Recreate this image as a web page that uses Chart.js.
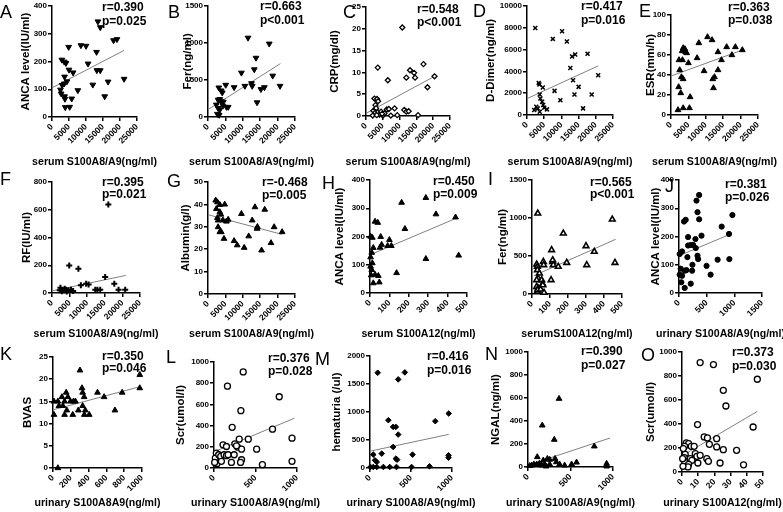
<!DOCTYPE html>
<html>
<head>
<meta charset="utf-8">
<script src="https://cdn.jsdelivr.net/npm/chart.js@4"></script>
<style>
  body { margin: 0; background: #fff; width: 783px; height: 512px; position: relative; overflow: hidden; }
  .cell { position: absolute; }
</style>
</head>
<body>
<script>
// ---- data ----
const xA = [13500,14200,19100,18100,8500,10000,4900,13100,10600,2900,3600,4100,5000,6200,13200,14200,3700,4400,3600,3000,16500,21200,12000,7600,2500,2700,3700,3800,5800,15500,3900,5200];
const yA = [344,323,280,276,258,256,252,234,192,206,199,194,170,160,168,168,145,128,120,115,127,137,116,96,98,84,74,65,66,74,35,36];
const fitAX = [0, 21200], fitAY = [105, 240];

const xB = [11500,17600,13800,13300,9600,18600,10600,12500,12700,7500,5100,20700,16200,15200,3100,3800,4100,14100,2900,3400,3800,4400,5800,5300,2900,3400,2700,3200,4300,2400];
const yB = [1068,988,797,641,596,556,418,454,418,400,432,418,400,374,396,356,329,196,231,240,209,205,134,134,120,98,40,27,151,165];
const fitBX = [0, 20800], fitBY = [100, 720];

const xC = [10800,17100,14600,13100,14300,12000,20400,18300,8500,11400,12000,12700,15500,9300,3500,6500,2500,3300,3600,2800,3000,2200,2800,3600,4500,4000,2000,3200,5000,5500,4800,6200,6800,7400];
const yC = [20.3,11.9,8.8,10.5,9.9,8.8,9.1,6.6,1.75,1.4,1.0,1.1,0.2,0.2,11.1,8.2,4.0,3.9,3.4,2.5,1.8,1.2,0.8,0.9,1.0,0.3,0.1,0.2,0.1,0.6,0.5,1.5,1.6,0.1];
const fitCX = [0, 20400], fitCY = [0.6, 9.1];

const xD = [2400,10200,7500,11600,13100,14000,17600,12600,13400,15000,13800,8000,9700,3400,3600,4600,3700,3900,4400,4700,5000,5800,2700,3100,2100,3700,16300,20700,18800];
const yD = [7970,7670,6970,6730,5360,5545,5600,4300,3180,2575,1880,2210,1360,2940,2790,2515,1880,1515,1210,910,667,515,760,606,455,303,606,3640,1880];
const fitDX = [0, 20700], fitDY = [1500, 4500];

const xE = [10500,11800,8000,16000,18500,20500,17500,13500,14500,3500,4000,3200,4200,4500,2300,3300,5000,7500,9500,13500,2500,3000,3500,12500,12000,12200,2200,2800,5500,3500,5300,2000];
const yE = [78,75,72,68,68,65,60,63,55,67,66,64,63,62,55,55,52,57,44,45,45,38,36,38,36,27,28,22,18,7,7,5];
const fitEX = [0, 20500], fitEY = [39, 65];

const xF = [16000,4900,7500,15100,8200,9700,10400,17700,2400,12300,12900,13700,18900,20800,3300,4000,4700,5400,6000,2800,4200,3600,2200];
const yF = [638,199,175,115,55,67,62,67,38,24,24,24,24,24,19,24,19,24,14,12,10,31,19];
const fitFX = [0, 21000], fitFY = [15, 127];

const xG = [2200,2700,2400,4800,3400,3400,3700,2900,4300,5300,5800,9600,13500,16300,12700,14100,14200,2900,3400,3800,4600,7500,8400,10400,11700,15400,18100,19000,21300,2700];
const yG = [41.8,41,38,40,39.8,36.6,35.5,32.9,32.9,32.4,33.2,35.8,38.8,37.7,32.9,29.2,30,29.9,27.7,27.7,24.7,23.7,21.8,20.7,25.8,19.5,22.8,29.9,27.7,34];
const fitGX = [0, 21300], fitGY = [35.4, 26.6];

const xH = [26,40,3,12,55,60,52,9,3,17,12,3,9,26,43,48,17,6,100,91,110,163,288,340,441,180,288,457,137];
const yH = [253,249,200,196,199,171,161,143,127,160,106,94,82,65,61,38,35,63,188,167,167,320,337,279,268,227,121,133,71];
const fitHX = [0, 446], fitHY = [135, 265];

const xI = [32,26,30,30,41,34,26,63,65,115,115,118,109,174,146,193,106,54,59,60,26,34,30,32,48,67,300,304,446,346,461];
const yI = [1061,390,360,316,272,206,184,425,382,425,447,382,579,798,360,412,184,184,132,118,96,75,31,53,61,18,632,382,982,557,412];
const fitIX = [10, 465], fitIY = [240, 720];

const xJ = [364,316,334,364,121,91,965,771,904,407,164,212,255,297,303,164,55,12,334,346,152,910,698,243,498,571,30,55,12,103,134,237,42,212,103];
const yJ = [347,327,286,261,259,253,276,235,209,203,198,170,170,191,159,168,147,138,132,120,127,120,118,100,96,65,86,61,65,79,81,79,38,33,18];
const fitJX = [0, 950], fitJY = [132, 210];

const xK = [303,975,975,777,500,574,326,333,350,148,167,100,130,196,230,252,55,11,67,111,333,155,285,363,696,11,130,222,352,407,55];
const yK = [22,21,18,17,17,16,18,17,16,17,16,16,15,15,15,15,15,15,14,14,14,13,13,13,13,12,12,12,12,12,0];
const fitKX = [0, 975], fitKY = [13.1, 18.3];

const xL = [352,162,786,324,219,705,940,413,304,514,940,583,109,150,251,283,332,28,16,57,81,121,150,170,36,89,210,332,320,8,243,271];
const yL = [906,772,672,541,384,366,281,272,272,178,63,31,219,203,228,197,178,141,94,125,109,125,116,125,41,63,53,78,53,53,125,209];
const fitLX = [0, 970], fitLY = [153, 470];

const xM = [94,224,143,40,61,82,6,40,82,163,241,282,425,344,282,315,344,796,960,315,331,519,726,507,323,958,958];
const yM = [1701,854,257,239,137,107,18,18,18,18,18,376,1707,1582,734,734,597,836,973,167,149,239,30,18,18,227,185];
const fitMX = [0, 960], fitMY = [300, 600];

const xN = [365,168,309,109,180,228,255,318,333,70,102,133,161,196,212,255,372,431,513,571,43,780,925,925,20];
const yN = [594,362,238,87,58,72,64,72,43,23,23,29,14,23,6,23,23,14,23,40,14,180,6,29,10];
const fitNX = [0, 965], fitNY = [15, 252];

const xO = [11.2,19.4,46.5,25.5,27.1,43.9,9.6,13.7,15.7,21.4,16.9,21.4,25.5,33.7,2.7,4.1,5.7,7.5,1.6,0.8,2.0,1.4,0.4,8.2,9.2,11.2,5.1,6.1,15.3,16.3,9.8,23.5,4.1,3.7,38.0,0.6];
const yO = [912,895,773,681,550,375,395,292,284,278,231,209,186,181,242,236,214,214,214,195,147,120,111,153,131,139,111,97,111,89,75,75,64,42,60,47];
const fitOX = [0, 46.5], fitOY = [135, 505];

// axis ranges / tick steps
const xMaxes = [25000,25000,25000,25000,25000, 25000,25000,500,500,1500, 1000,1000,1000,1000,50];
const xSteps = [5000,5000,5000,5000,5000, 5000,5000,100,100,500, 200,500,500,500,10];
const yMaxes = [400,1500,25,10000,100, 800,50,400,1500,400, 25,1000,2000,1000,1000];
const ySteps = [100,500,5,2000,20, 200,10,100,500,100, 5,200,500,200,200];

const letters = ['A','B','C','D','E','F','G','H','I','J','K','L','M','N','O'];
const xTitles = ['serum S100A8/A9(ng/ml)','serum S100A8/A9(ng/ml)','serum S100A8/A9(ng/ml)','serum S100A8/A9(ng/ml)','serum S100A8/A9(ng/ml)',
  'serum S100A8/A9(ng/ml)','serum S100A8/A9(ng/ml)','serum S100A12(ng/ml)','serumS100A12(ng/ml)','urinary S100A8/A9(ng/ml)',
  'urinary S100A8A9(ng/ml)','urinary S100A8/A9(ng/ml)','urinary S100A8/A9(ng/ml)','urinary S100A8/A9(ng/ml)','urinary S100A12(ng/ml)'];
const yTitles = ['ANCA level(IU/ml)','Fer(ng/ml)','CRP(mg/dl)','D-Dimer(ng/ml)','ESR(mm/h)',
  'RF(IU/ml)','Albumin(g/l)','ANCA level(IU/ml)','Fer(ng/ml)','ANCA level(IU/ml)',
  'BVAS','Scr(umol/l)','hematuria (/ul)','NGAL(ng/ml)','Scr(umol/l)'];
const rTexts = ['r=0.390','r=0.663','r=0.548','r=0.417','r=0.363','r=0.395','r=-0.468','r=0.450','r=0.565','r=0.381','r=0.350','r=0.376','r=0.416','r=0.390','r=0.373'];
const pTexts = ['p=0.025','p<0.001','p<0.001','p=0.016','p=0.038','p=0.021','p=0.005','p=0.009','p<0.001','p=0.026','p=0.046','p=0.028','p=0.016','p=0.027','p=0.030'];

const xs = [xA,xB,xC,xD,xE,xF,xG,xH,xI,xJ,xK,xL,xM,xN,xO];
const ys = [yA,yB,yC,yD,yE,yF,yG,yH,yI,yJ,yK,yL,yM,yN,yO];
const fxs = [fitAX,fitBX,fitCX,fitDX,fitEX,fitFX,fitGX,fitHX,fitIX,fitJX,fitKX,fitLX,fitMX,fitNX,fitOX];
const fys = [fitAY,fitBY,fitCY,fitDY,fitEY,fitFY,fitGY,fitHY,fitIY,fitJY,fitKY,fitLY,fitMY,fitNY,fitOY];

// ---- layout (page pixels) ----
const colX = [0,157,313,470,627], colW = [157,156,157,157,156];
const rowY = [0,170,340], rowH = [170,170,172];
// plot area [left, top, right, bottom]
const plots = [
  [52,6,137,117],[208,5,295,117],[366,7,450,116],[527,5,613,115],[671,15,758,115],
  [52,182,140,293],[208,182,295,294],[370,180,467,293],[532,180,622,294],[679,180,762,293],
  [53,357,142,468],[214,362,297,468],[370,356,452,468],[528,352,613,467],[682,352,763,472]
];
const yTitleX = [26,188,335,491,651, 27,186,340,503,656, 28,181,337,496,651];
const letterPos = [[0,13],[168,13],[343,13],[473,12],[639,12],[0,180],[167,182],[322,184],[488,180],[665,187],[0,355],[166,358],[315,360],[485,355],[641,356]];
const rpPos = [[102,8,22],[260,7,21],[417,10,23],[581,7,21],[728,8,21],[102,183,195],[262,183,196],[433,182,195],[590,183,195],[725,185,198],[102,357,369],[268,359,372],[427,357,371],[581,352,366],[732,353,367]];
const xTitleY = [162, 334, 503];

const markers = {
  triDown: {pointStyle:'triangle', pointRotation:180, pointRadius:3.3, pointBackgroundColor:'#000', pointBorderColor:'#000', pointBorderWidth:1},
  diamondOpen: {pointStyle:'rectRot', pointRadius:2.5, pointBackgroundColor:'#fff', pointBorderColor:'#000', pointBorderWidth:1.3},
  crossRot: {pointStyle:'crossRot', pointRadius:2.8, pointBorderColor:'#000', pointBorderWidth:1.5},
  tri: {pointStyle:'triangle', pointRadius:3.3, pointBackgroundColor:'#000', pointBorderColor:'#000', pointBorderWidth:1},
  plus: {pointStyle:'cross', pointRadius:3, pointBorderColor:'#000', pointBorderWidth:2},
  triOpen: {pointStyle:'triangle', pointRadius:3.3, pointBackgroundColor:'#fff', pointBorderColor:'#000', pointBorderWidth:1.6},
  dot: {pointStyle:'circle', pointRadius:2.6, pointBackgroundColor:'#000', pointBorderColor:'#000', pointBorderWidth:1},
  circleOpen: {pointStyle:'circle', pointRadius:3, pointBackgroundColor:'#fff', pointBorderColor:'#000', pointBorderWidth:1.3},
  diamond: {pointStyle:'rectRot', pointRadius:2.8, pointBackgroundColor:'#000', pointBorderColor:'#000', pointBorderWidth:1}
};
const markerOf = ['triDown','triDown','diamondOpen','crossRot','tri','plus','tri','tri','triOpen','dot','tri','circleOpen','diamond','tri','circleOpen'];

const FONT = '"Liberation Sans", Arial, sans-serif';

// letters, x titles and r / p labels (x titles drawn here so they are not squeezed to the axis width)
const panelText = {
  id: 'panelText',
  afterDraw(chart, args, o) {
    const ctx = chart.ctx;
    const area = chart.chartArea;
    ctx.save();
    ctx.fillStyle = '#000';
    ctx.textBaseline = 'middle';
    ctx.textAlign = 'left';
    ctx.font = '18px ' + FONT;
    ctx.fillText(o.letter, o.lx, o.ly);
    ctx.font = 'bold 12px ' + FONT;
    ctx.fillText(o.r, o.rx, o.ry);
    ctx.fillText(o.p, o.rx, o.py);
    ctx.textAlign = 'center';
    ctx.font = 'bold 10.6px ' + FONT;
    ctx.fillText(o.xTitle, (area.left + area.right) / 2, o.ty);
    ctx.restore();
  }
};

for (let i = 0; i < 15; i++) {
  const col = i % 5, row = Math.floor(i / 5);
  const cx = colX[col], cy = rowY[row], ch = rowH[row];
  const cw = Math.min(colW[col] + 30, 783 - cx);
  const [pl, pt, pr, pb] = plots[i];

  const div = document.createElement('div');
  div.className = 'cell';
  div.style.left = cx + 'px';
  div.style.top = cy + 'px';
  const canvas = document.createElement('canvas');
  canvas.width = cw;
  canvas.height = ch;
  canvas.style.width = cw + 'px';
  canvas.style.height = ch + 'px';
  div.appendChild(canvas);
  document.body.appendChild(div);

  const pts = xs[i].map((v, k) => ({x: v, y: ys[i][k]}));
  const fit = fxs[i].map((v, k) => ({x: v, y: fys[i][k]}));
  const yLine = 11.5 * 1.2;

  new Chart(canvas, {
    type: 'scatter',
    data: {
      datasets: [
        Object.assign({data: pts, clip: false}, markers[markerOf[i]]),
        {data: fit, showLine: true, pointRadius: 0, borderColor: '#808080', borderWidth: 1, clip: false}
      ]
    },
    options: {
      responsive: false,
      animation: false,
      layout: {padding: {top: pt - cy, right: cx + cw - pr, left: 0, bottom: 0}},
      plugins: {
        legend: {display: false},
        tooltip: {enabled: false},
        panelText: {
          letter: letters[i], lx: letterPos[i][0] - cx, ly: letterPos[i][1] - cy,
          r: rTexts[i], p: pTexts[i], rx: rpPos[i][0] - cx, ry: rpPos[i][1] - cy, py: rpPos[i][2] - cy,
          xTitle: xTitles[i], ty: xTitleY[row] - cy
        }
      },
      scales: {
        x: {
          type: 'linear', min: 0, max: xMaxes[i],
          afterFit: (s) => { s.height = cy + ch - pb; },
          border: {display: true, color: '#000', width: 1.5},
          grid: {drawOnChartArea: false, color: '#000', lineWidth: 1.5, tickLength: 4},
          ticks: {
            stepSize: xSteps[i], autoSkip: false, minRotation: 45, maxRotation: 45, padding: 1,
            color: '#000', font: {family: FONT, size: 8.5, weight: 'bold'},
            callback: (v) => String(v)
          },
          title: {display: false}
        },
        y: {
          type: 'linear', min: 0, max: yMaxes[i],
          afterFit: (s) => { s.width = pl - cx; },
          border: {display: true, color: '#000', width: 1.5},
          grid: {drawOnChartArea: false, color: '#000', lineWidth: 1.5, tickLength: 4},
          ticks: {
            stepSize: ySteps[i], padding: 1, color: '#000',
            font: {family: FONT, size: 8, weight: 'bold'},
            callback: (v) => String(v)
          },
          title: {
            display: true, text: yTitles[i], color: '#000',
            font: {family: FONT, size: 11.5, weight: 'bold', lineHeight: 1.2},
            padding: {top: yTitleX[i] - cx - yLine / 2, bottom: 0}
          }
        }
      }
    },
    plugins: [panelText]
  });
}
</script>
</body>
</html>
